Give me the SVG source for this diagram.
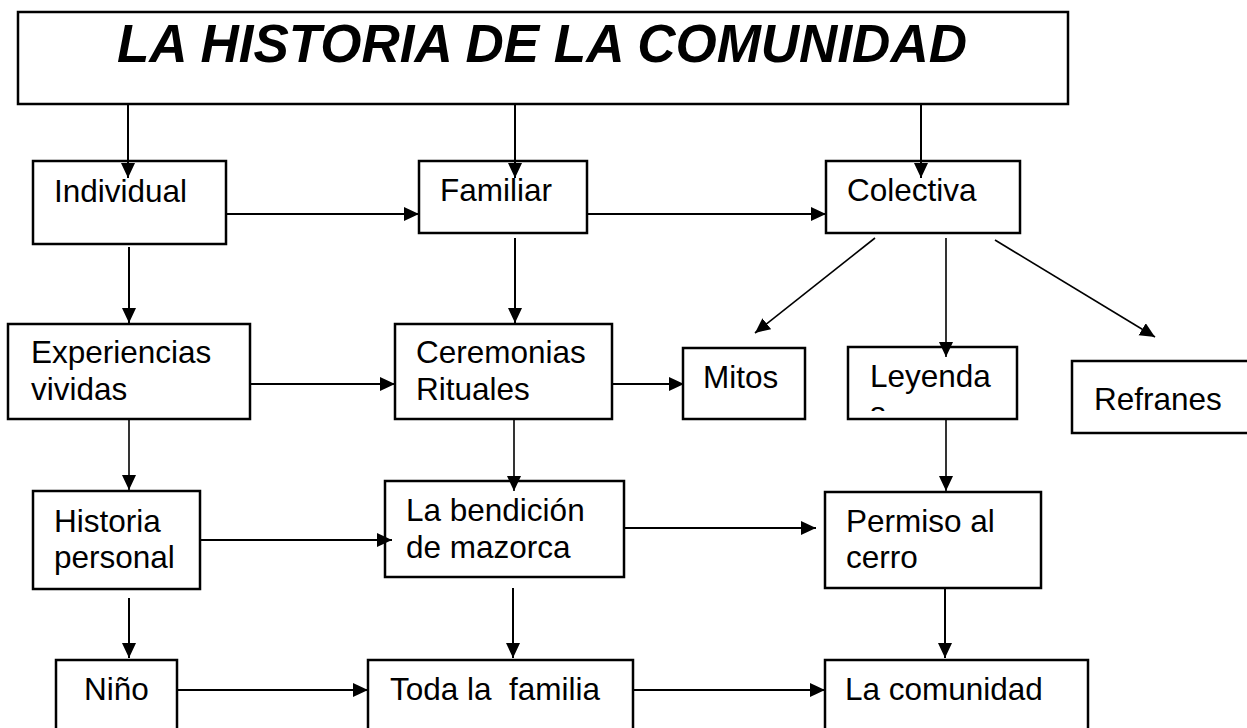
<svg xmlns="http://www.w3.org/2000/svg" width="1247" height="728" viewBox="0 0 1247 728">
<defs>
<style>
.box{fill:#fff;stroke:#000;stroke-width:2.5}
.t{font-family:"Liberation Sans",Arial,sans-serif;font-size:31.5px;fill:#000;white-space:pre}
.title{font-family:"Liberation Sans",Arial,sans-serif;font-size:53px;font-weight:bold;font-style:italic;fill:#000}
.c{stroke:#000;stroke-width:2;fill:none;marker-end:url(#ah)}
.d{stroke:#000;stroke-width:1.6;fill:none;marker-end:url(#ah)}
</style>
<marker id="ah" markerUnits="userSpaceOnUse" markerWidth="16" markerHeight="15" refX="15" refY="7" orient="auto">
<path d="M0,0 L15,7 L0,14 z" fill="#000"/>
</marker>
<clipPath id="leyClip"><rect x="848" y="347" width="169" height="64"/></clipPath>
</defs>
<rect width="1247" height="728" fill="#fff"/>

<g id="title">
<rect class="box" x="18" y="12" width="1050" height="92"/>
<text class="title" x="117" y="62">LA HISTORIA DE LA COMUNIDAD</text>
</g>

<g id="individual">
<rect class="box" x="33" y="161" width="193" height="83"/>
<text class="t" x="54" y="202">Individual</text>
</g>
<g id="familiar">
<rect class="box" x="419" y="161" width="168" height="72"/>
<text class="t" x="440" y="201">Familiar</text>
</g>
<g id="colectiva">
<rect class="box" x="826" y="161" width="194" height="72"/>
<text class="t" x="847" y="201">Colectiva</text>
</g>

<g id="experiencias">
<rect class="box" x="8" y="324" width="242" height="95"/>
<text class="t" x="31" y="363">Experiencias</text>
<text class="t" x="31" y="400">vividas</text>
</g>
<g id="ceremonias">
<rect class="box" x="395" y="324" width="217" height="95"/>
<text class="t" x="416" y="363">Ceremonias</text>
<text class="t" x="416" y="400">Rituales</text>
</g>
<g id="mitos">
<rect class="box" x="683" y="348" width="122" height="71"/>
<text class="t" x="703" y="388">Mitos</text>
</g>
<g id="leyenda">
<rect class="box" x="848" y="347" width="169" height="72"/>
<text class="t" x="870" y="387">Leyenda</text>
<text class="t" x="870" y="424" clip-path="url(#leyClip)">s</text>
</g>
<g id="refranes">
<rect class="box" x="1072" y="361" width="190" height="72"/>
<text class="t" x="1094" y="410">Refranes</text>
</g>

<g id="historia">
<rect class="box" x="33" y="491" width="167" height="98"/>
<text class="t" x="54" y="532">Historia</text>
<text class="t" x="54" y="568">personal</text>
</g>
<g id="bendicion">
<rect class="box" x="385" y="481" width="239" height="96"/>
<text class="t" x="406" y="521">La bendición</text>
<text class="t" x="406" y="558">de mazorca</text>
</g>
<g id="permiso">
<rect class="box" x="825" y="492" width="216" height="96"/>
<text class="t" x="846" y="532">Permiso al</text>
<text class="t" x="846" y="568">cerro</text>
</g>

<g id="nino">
<rect class="box" x="56" y="660" width="121" height="90"/>
<text class="t" x="84" y="700">Niño</text>
</g>
<g id="toda">
<rect class="box" x="368" y="660" width="265" height="90"/>
<text class="t" x="390" y="700">Toda la  familia</text>
</g>
<g id="comunidad">
<rect class="box" x="825" y="660" width="263" height="90"/>
<text class="t" x="845" y="700">La comunidad</text>
</g>

<g id="connectors">
<line class="c" x1="128" y1="104" x2="128" y2="178"/>
<line class="c" x1="515" y1="104" x2="515" y2="178"/>
<line class="c" x1="921" y1="104" x2="921" y2="178"/>
<line class="c" x1="226" y1="214" x2="419" y2="214"/>
<line class="c" x1="587" y1="214" x2="826" y2="214"/>
<line class="c" x1="129" y1="247" x2="129" y2="323"/>
<line class="c" x1="515" y1="238" x2="515" y2="323"/>
<line class="d" x1="875" y1="238" x2="755" y2="333"/>
<line class="d" x1="946" y1="238" x2="946" y2="357"/>
<line class="d" x1="995" y1="240" x2="1155" y2="337"/>
<line class="c" x1="250" y1="384" x2="395" y2="384"/>
<line class="c" x1="612" y1="384" x2="684" y2="384"/>
<line class="d" x1="129" y1="420" x2="129" y2="490"/>
<line class="d" x1="514" y1="420" x2="514" y2="491"/>
<line class="d" x1="946" y1="419" x2="946" y2="491"/>
<line class="c" x1="200" y1="540" x2="392" y2="540"/>
<line class="c" x1="624" y1="528" x2="816" y2="528"/>
<line class="c" x1="129" y1="598" x2="129" y2="658"/>
<line class="c" x1="513" y1="588" x2="513" y2="658"/>
<line class="c" x1="945" y1="588" x2="945" y2="658"/>
<line class="c" x1="177" y1="690" x2="368" y2="690"/>
<line class="c" x1="633" y1="690" x2="825" y2="690"/>
</g>
</svg>
